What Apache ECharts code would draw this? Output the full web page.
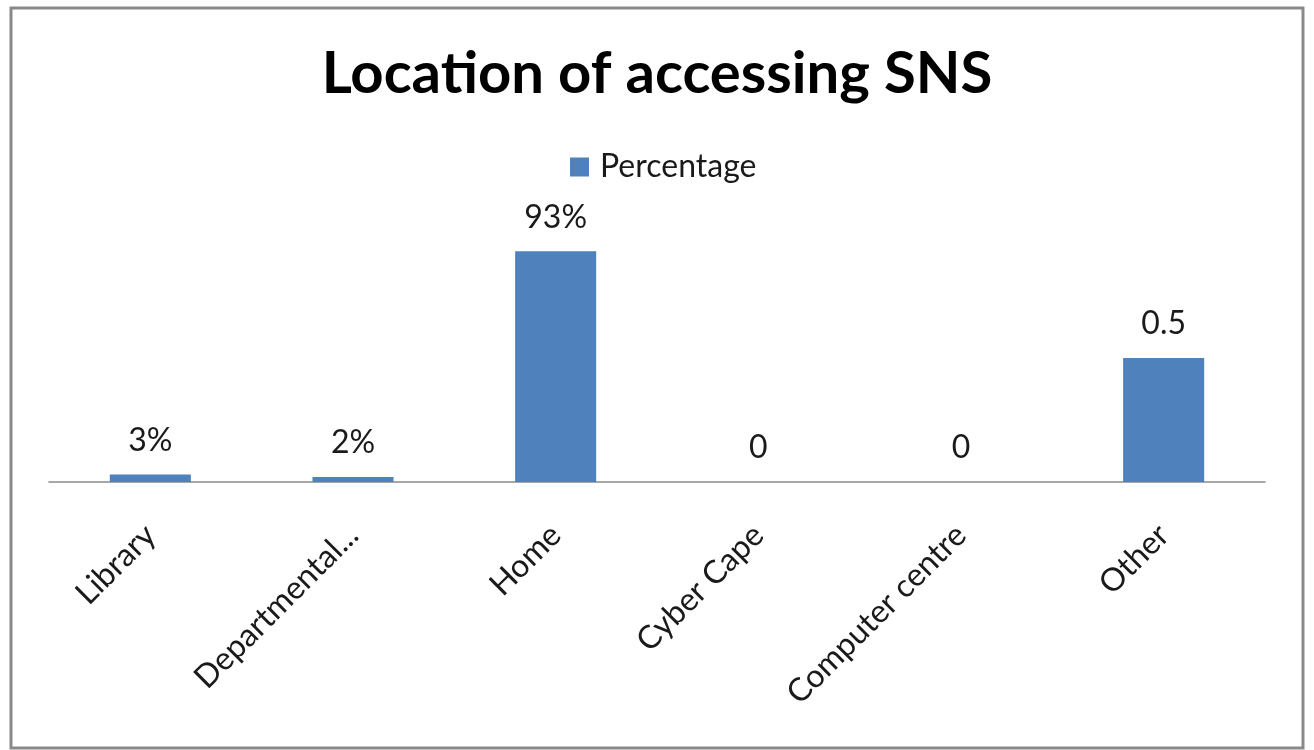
<!DOCTYPE html>
<html>
<head>
<meta charset="utf-8">
<script src="https://cdn.jsdelivr.net/npm/echarts@6/dist/echarts.min.js"></script>
<style>
html,body{margin:0;padding:0;background:#fff;}
#chart{width:1314px;height:750px;}
</style>
</head>
<body>
<div id="chart"></div>
<script>
var categories = ['Library', 'Departmental...', 'Home', 'Cyber Cape', 'Computer centre', 'Other'];
var values = [0.03, 0.02, 0.93, 0, 0, 0.5];
var valueLabels = ['3%', '2%', '93%', '0', '0', '0.5'];
var seriesName = 'Percentage';

var chart = echarts.init(document.getElementById('chart'));
var FONT = 'Lato';
chart.setOption({
  animation: false,
  backgroundColor: '#fff',
  graphic: [{
    type: 'rect',
    shape: {x: 11, y: 8, width: 1292, height: 740},
    style: {fill: 'none', stroke: '#898989', lineWidth: 3},
    silent: true
  }],
  title: {
    text: 'Location of accessing SNS',
    left: 'center',
    top: 40,
    textStyle: {fontFamily: FONT, fontSize: 58, fontWeight: 'bold', color: '#000'}
  },
  legend: {
    data: [seriesName],
    left: 565,
    top: 146,
    icon: 'rect',
    itemWidth: 19,
    itemHeight: 19,
    textStyle: {fontFamily: FONT, fontSize: 32, color: '#1a1a1a', padding: [0, 0, 0, 6]}
  },
  grid: {left: 49, right: 49, top: 234, bottom: 268},
  xAxis: {
    type: 'category',
    data: categories,
    axisLine: {lineStyle: {color: '#8a8a8a', width: 1.5}},
    axisTick: {show: false},
    axisLabel: {
      rotate: 45,
      interval: 0,
      margin: 48,
      fontFamily: FONT,
      fontSize: 32,
      color: '#1a1a1a'
    }
  },
  yAxis: {
    type: 'value',
    min: 0,
    max: 1,
    show: false,
    splitLine: {show: false}
  },
  series: [{
    name: seriesName,
    type: 'bar',
    data: values,
    barWidth: '40%',
    itemStyle: {color: '#4F81BD'},
    label: {
      show: true,
      position: 'top',
      distance: 18,
      fontFamily: FONT,
      fontSize: 32,
      color: '#1a1a1a',
      formatter: function (p) { return valueLabels[p.dataIndex]; }
    }
  }]
});
</script>
</body>
</html>
